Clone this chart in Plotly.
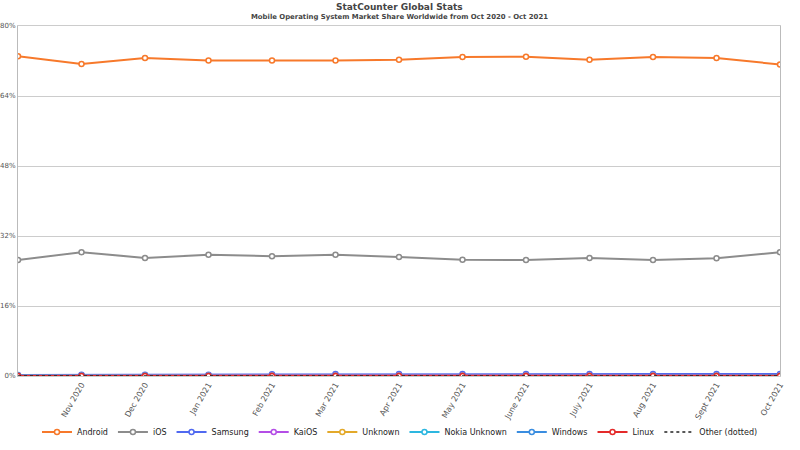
import plotly.graph_objects as go

months = ["Oct 2020", "Nov 2020", "Dec 2020", "Jan 2021", "Feb 2021", "Mar 2021",
          "Apr 2021", "May 2021", "June 2021", "July 2021", "Aug 2021", "Sept 2021", "Oct 2021"]

android = [73.1, 71.3, 72.7, 72.1, 72.1, 72.1, 72.3, 72.9, 73.0, 72.3, 72.9, 72.7, 71.2]
ios = [26.5, 28.3, 27.0, 27.7, 27.4, 27.7, 27.2, 26.6, 26.5, 27.0, 26.5, 26.9, 28.3]
samsung = [0.25, 0.28, 0.3, 0.3, 0.42, 0.45, 0.45, 0.45, 0.45, 0.45, 0.45, 0.45, 0.45]
kaios = [0.12, 0.12, 0.11, 0.1, 0.1, 0.1, 0.1, 0.09, 0.09, 0.09, 0.08, 0.08, 0.08]
unknown = [0.06, 0.06, 0.05, 0.05, 0.05, 0.05, 0.05, 0.05, 0.05, 0.05, 0.05, 0.05, 0.05]
nokia = [0.03, 0.03, 0.03, 0.03, 0.02, 0.02, 0.02, 0.02, 0.02, 0.02, 0.02, 0.02, 0.02]
windows = [0.03, 0.03, 0.03, 0.02, 0.02, 0.02, 0.02, 0.02, 0.02, 0.02, 0.02, 0.02, 0.02]
linux = [0.01, 0.01, 0.01, 0.01, 0.01, 0.01, 0.01, 0.01, 0.01, 0.01, 0.01, 0.01, 0.01]
other = [0.02, 0.02, 0.02, 0.02, 0.02, 0.02, 0.02, 0.02, 0.02, 0.02, 0.02, 0.02, 0.02]

y_ticks = [0, 16, 32, 48, 64, 80]

series = [
    ("Android", android, "#F7792B"),
    ("iOS", ios, "#8c8c8c"),
    ("Samsung", samsung, "#5069f0"),
    ("KaiOS", kaios, "#b44ee6"),
    ("Unknown", unknown, "#e3a92a"),
    ("Nokia Unknown", nokia, "#2db7e0"),
    ("Windows", windows, "#3a8de0"),
    ("Linux", linux, "#e42a2a"),
]

fig = go.Figure()
for name, vals, col in series:
    fig.add_trace(go.Scatter(
        x=months, y=vals, name=name, mode="lines+markers",
        line=dict(color=col, width=2),
        marker=dict(symbol="circle", size=5, color="white",
                    line=dict(color=col, width=1.5)),
    ))
fig.add_trace(go.Scatter(
    x=months, y=other, name="Other (dotted)", mode="lines",
    line=dict(color="#222222", width=1.5, dash="dot"),
))

fig.update_layout(
    width=800, height=450,
    margin=dict(l=18, r=20, t=26, b=74, autoexpand=False),
    paper_bgcolor="white", plot_bgcolor="white",
    font=dict(family="DejaVu Sans", color="#333"),
    annotations=[
        dict(text="<b>StatCounter Global Stats</b>", x=0.5, y=1.0543, xref="paper", yref="paper",
             xanchor="center", yanchor="middle", showarrow=False,
             font=dict(size=9, color="#444")),
        dict(text="<b>Mobile Operating System Market Share Worldwide from Oct 2020 - Oct 2021</b>",
             x=0.5, y=1.0271, xref="paper", yref="paper", xanchor="center", yanchor="middle",
             showarrow=False, font=dict(size=6.9, color="#444")),
    ],
    legend=dict(orientation="h", xref="container", yref="container",
                x=0.5, xanchor="center", y=0.04, yanchor="middle",
                bgcolor="rgba(0,0,0,0)",
                font=dict(size=8, color="#222"), itemwidth=30, tracegroupgap=0),
    showlegend=True,
)

fig.update_xaxes(
    type="category", range=[0, len(months) - 1],
    tickvals=months[1:], ticktext=months[1:], tickangle=-60,
    tickfont=dict(size=8, color="#555"),
    showgrid=False, showline=True, linecolor="#cccccc", mirror=True,
    ticks="", automargin=False, zeroline=False,
)
fig.update_yaxes(
    range=[0, 80], tickvals=y_ticks, ticktext=[f"{v}%" for v in y_ticks],
    tickfont=dict(size=7, color="#555"),
    showgrid=True, gridcolor="#cccccc", gridwidth=1,
    showline=True, linecolor="#bbbbbb", mirror=True,
    ticks="", automargin=False, zeroline=False,
)

fig.write_html("out.html", config={"displayModeBar": False},
               post_script="document.body.style.margin='0';")
